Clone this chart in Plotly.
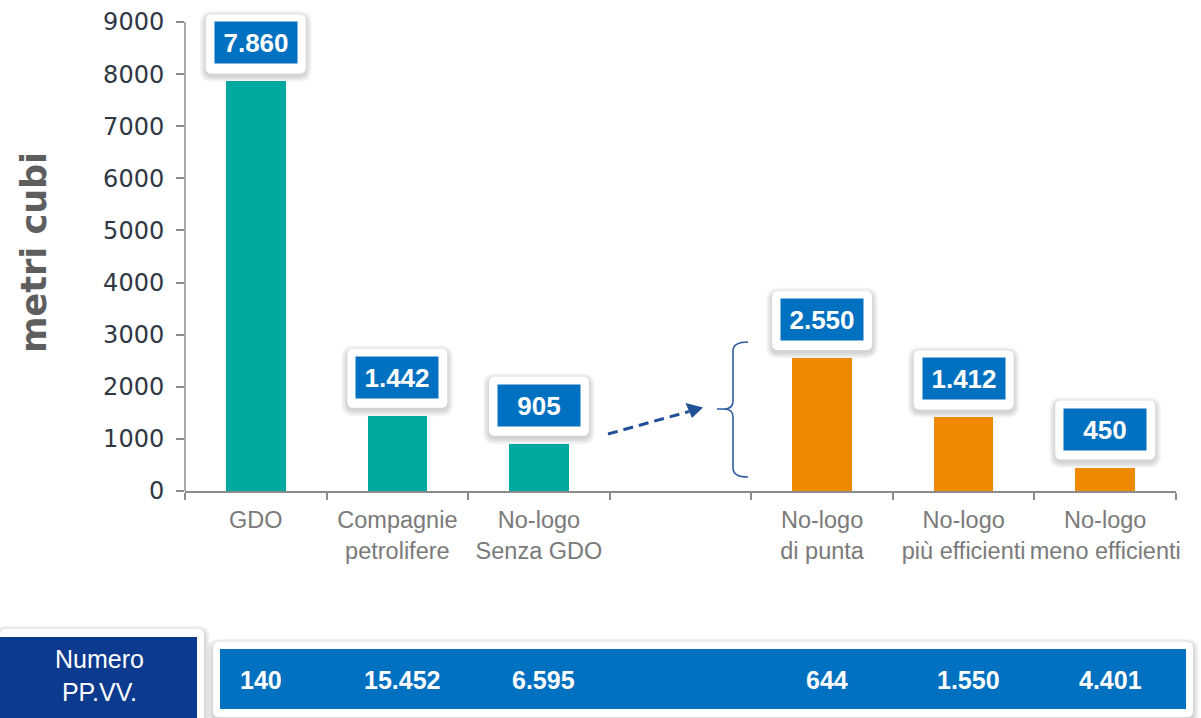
import plotly.graph_objects as go

# ---------------------------------------------------------------- data
categories = ["GDO", "Compagnie<br>petrolifere", "No-logo<br>Senza GDO", " ",
              "No-logo<br>di punta", "No-logo<br>più efficienti",
              "No-logo<br>meno efficienti"]
volumes = [7860, 1442, 905, None, 2550, 1412, 450]            # metri cubi
station_counts = [140, 15452, 6595, None, 644, 1550, 4401]    # numero PP.VV.
y_tick_values = [0, 1000, 2000, 3000, 4000, 5000, 6000, 7000, 8000, 9000]
y_title = "metri cubi"
row_title = "Numero<br>PP.VV."

# ---------------------------------------------------------------- style
TEAL = "#00A99F"
ORANGE = "#EF8900"
LABEL_BLUE = "#0070C0"
NAVY = "#0B3A8E"
AXIS_GREY = "#8C8C8C"
ARROW_BLUE = "#1F4F96"
BRACE_BLUE = "#2E5C9E"
SANS = "Liberation Sans, Arial, sans-serif"
WIDE = "DejaVu Sans, sans-serif"

bar_colors = [TEAL, TEAL, TEAL, TEAL, ORANGE, ORANGE, ORANGE]

W, H = 1201, 718
ML, MR, MT, MB = 185, 25, 0, 227
PW, PH = W - ML - MR, H - MT - MB
Y_TOP = y_tick_values[-1]
PX_PER_UNIT = 469 / Y_TOP
Y_MAX = PH / PX_PER_UNIT          # headroom above 9000 for the value cards


def fx(px):
    return (px - ML) / PW


def fy(py):
    return (H - MB - py) / PH


def it_fmt(v):
    return f"{v:,}".replace(",", ".")


def rr_path(xl, xr, yt, yb, r, conv):
    s = 1 if yt > yb else -1
    segs = [
        ("M", [(xl + r, yt)]),
        ("L", [(xr - r, yt)]),
        ("Q", [(xr, yt), (xr, yt - s * r)]),
        ("L", [(xr, yb + s * r)]),
        ("Q", [(xr, yb), (xr - r, yb)]),
        ("L", [(xl + r, yb)]),
        ("Q", [(xl, yb), (xl, yb + s * r)]),
        ("L", [(xl, yt - s * r)]),
        ("Q", [(xl, yt), (xl + r, yt)]),
    ]
    parts = []
    for cmd, pts in segs:
        coords = []
        for x, y in pts:
            cx, cy = conv(x, y)
            coords.append(f"{cx:.5f},{cy:.5f}")
        parts.append(cmd + " " + " ".join(coords))
    return " ".join(parts) + " Z"


shapes = []
annotations = []


def add_card(xl, xr, yt, yb, r, conv, down, ref):
    """White rounded card with a soft drop shadow."""
    for k in range(4):
        g = 1.0 + 1.6 * k
        d = 2.5 * down
        shapes.append(dict(type="path", **ref,
                           path=rr_path(xl - g, xr + g, yt + (g if down < 0 else -g) + d,
                                        yb - (g if down < 0 else -g) + d, r + g, conv),
                           fillcolor="rgba(0,0,0,0.045)", line=dict(width=0)))
    shapes.append(dict(type="path", **ref,
                       path=rr_path(xl, xr, yt, yb, r, conv),
                       fillcolor="white", line=dict(width=0)))


ident = lambda x, y: (x, y)
to_paper = lambda x, y: (fx(x), fy(y))
paper_ref = dict(xref="paper", yref="paper")

# ---------------------------------------------------------------- bars
fig = go.Figure(go.Bar(x=categories, y=volumes, marker_color=bar_colors,
                       marker_line_width=0, width=0.42, hoverinfo="skip"))

# value cards above each bar
for i, v in enumerate(volumes):
    if v is None:
        continue
    anchor = dict(xref="x", yref="y", xsizemode="pixel", ysizemode="pixel",
                  xanchor=i, yanchor=v)
    add_card(-50, 50, 67, 8, 6, ident, -1, anchor)
    annotations.append(dict(x=i, y=v, xref="x", yref="y", showarrow=False,
                            text=f"<b>{it_fmt(v)}</b>", xanchor="center",
                            yanchor="bottom", yshift=17,
                            width=82, height=41, bgcolor=LABEL_BLUE, borderpad=0,
                            font=dict(family=SANS, size=26, color="white")))

# y axis line stopping at the last tick
shapes.append(dict(type="line", xref="paper", yref="y", x0=0, x1=0, y0=0, y1=Y_TOP,
                   line=dict(color=AXIS_GREY, width=1.5)))

# dashed arrow towards the brace
shapes.append(dict(type="line", **paper_ref, x0=fx(608), y0=fy(434), x1=fx(689), y1=fy(411.5),
                   line=dict(color=ARROW_BLUE, width=3, dash="10px,6px")))
shapes.append(dict(type="path", **paper_ref,
                   path=(f"M {fx(703):.5f},{fy(407.5):.5f} L {fx(685.5):.5f},{fy(403):.5f} "
                         f"L {fx(692):.5f},{fy(418):.5f} Z"),
                   fillcolor=ARROW_BLUE, line=dict(width=0)))

# brace grouping the no-logo categories
brace_pts = [("M", [(748, 342)]), ("Q", [(733, 342), (733, 351)]), ("L", [(733, 401)]),
             ("Q", [(733, 409), (724, 409)]), ("L", [(717, 409)]), ("M", [(717, 409)]),
             ("L", [(724, 409)]), ("Q", [(733, 409), (733, 417)]), ("L", [(733, 468)]),
             ("Q", [(733, 477), (748, 477)])]
brace_path = " ".join(cmd + " " + " ".join(f"{fx(x):.5f},{fy(y):.5f}" for x, y in pts)
                      for cmd, pts in brace_pts)
shapes.append(dict(type="path", **paper_ref, path=brace_path,
                   fillcolor="rgba(0,0,0,0)", line=dict(color=BRACE_BLUE, width=1.6)))

# ---------------------------------------------------------------- table row
add_card(0, 204, 629, 740, 6, to_paper, 1, paper_ref)
shapes.append(dict(type="rect", **paper_ref, x0=fx(0), x1=fx(197), y0=fy(637), y1=fy(740),
                   fillcolor=NAVY, line=dict(width=0)))
annotations.append(dict(x=fx(99), y=fy(675), **paper_ref, showarrow=False, text=row_title,
                        xanchor="center", yanchor="middle",
                        font=dict(family=SANS, size=25, color="white"), align="center"))

add_card(213, 1193, 642, 717, 6, to_paper, 1, paper_ref)
shapes.append(dict(type="rect", **paper_ref, x0=fx(220), x1=fx(1186), y0=fy(649), y1=fy(709),
                   fillcolor=LABEL_BLUE, line=dict(width=0)))
for i, n in enumerate(station_counts):
    if n is None:
        continue
    annotations.append(dict(x=i, y=fy(680), xref="x", yref="paper", showarrow=False,
                            text=f"<b>{it_fmt(n)}</b>", xshift=5,
                            xanchor="center", yanchor="middle",
                            font=dict(family=SANS, size=25, color="white")))

# y axis title
annotations.append(dict(x=fx(34), y=fy(253), **paper_ref, showarrow=False,
                        text=f"<b>{y_title}</b>", textangle=-90,
                        xanchor="center", yanchor="middle",
                        font=dict(family=WIDE, size=35, color="#5E5E5E")))

fig.update_layout(
    width=W, height=H,
    margin=dict(l=ML, r=MR, t=MT, b=MB, pad=0, autoexpand=False),
    paper_bgcolor="white", plot_bgcolor="white",
    showlegend=False, bargap=0.0,
    shapes=shapes, annotations=annotations,
    xaxis=dict(type="category", range=[-0.5, 6.5], tickson="boundaries",
               automargin=False, tickangle=0, ticklabelstandoff=7,
               ticks="outside", ticklen=7, tickwidth=1.5, tickcolor=AXIS_GREY,
               showline=True, linecolor=AXIS_GREY, linewidth=1.5,
               showgrid=False, zeroline=False,
               tickfont=dict(family=SANS, size=23.5, color="#7A7A7A")),
    yaxis=dict(range=[0, Y_MAX], tickvals=y_tick_values, ticks="outside", ticklen=8,
               automargin=False,
               tickwidth=1.5, tickcolor=AXIS_GREY, showline=False, showgrid=False,
               zeroline=False, ticklabelstandoff=7,
               tickfont=dict(family=WIDE, size=24, color="#2F3844")),
)

fig.write_html("out.html")
